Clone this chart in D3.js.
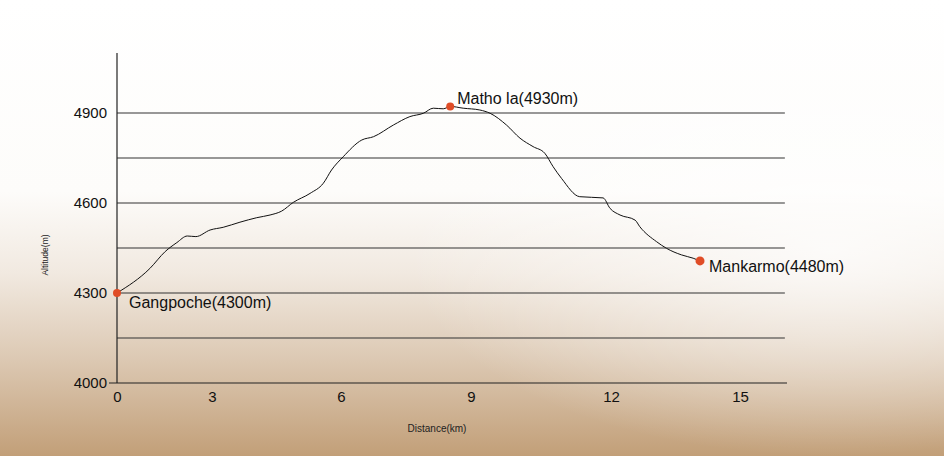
<!DOCTYPE html>
<html>
<head>
<meta charset="utf-8">
<script src="https://cdn.jsdelivr.net/npm/d3@7"></script>
<style>
  body { margin: 0; background: #fff; }
  svg { display: block; font-family: "Liberation Sans", Arial, sans-serif; }
</style>
</head>
<body>
<svg id="chart" width="944" height="456"></svg>
<script>
// profile (km, m)
const distance = [0, 1.04, 1.52, 1.89, 2.22, 2.49, 2.94, 3.26, 3.65, 4.04, 4.35, 4.62, 4.89, 5.28, 5.59, 5.78,
  6.05, 6.48, 6.75, 7.21, 7.59, 7.90, 8.13, 8.36, 8.52, 8.82, 9.19, 9.41, 9.76, 10.05, 10.33, 10.58,
  10.76, 10.94, 11.33, 11.83, 11.98, 12.21, 12.56, 12.67, 13.06, 13.29, 13.64, 13.91, 14.07];
const altitude = [4300, 4382, 4438, 4468, 4490, 4488, 4510, 4519, 4536, 4551, 4560, 4573, 4602, 4632, 4666, 4710,
  4754, 4810, 4821, 4860, 4888, 4899, 4916, 4914, 4922, 4916, 4910, 4899, 4860, 4816, 4788, 4766,
  4721, 4682, 4621, 4617, 4582, 4560, 4543, 4521, 4471, 4449, 4427, 4416, 4407];

const xTicks = [0, 3, 6, 9, 12, 15];
const yTicks = [4000, 4300, 4600, 4900];
const gridValues = [4150, 4300, 4450, 4600, 4750, 4900];

const placeNames = ["Gangpoche(4300m)", "Matho la(4930m)", "Mankarmo(4480m)"];
const placeKm = [0, 8.52, 14.07];
const placeAlt = [4300, 4922, 4407];

const svg = d3.select("#chart");

// background: white sky fading into a sandy brown
const defs = svg.append("defs");
const bg = defs.append("linearGradient").attr("id", "bg")
  .attr("x1", 0).attr("y1", 0).attr("x2", 0).attr("y2", 1);
bg.append("stop").attr("offset", "0%").attr("stop-color", "#ffffff");
bg.append("stop").attr("offset", "42%").attr("stop-color", "#fdfcfa");
bg.append("stop").attr("offset", "60%").attr("stop-color", "#f1e9e0");
bg.append("stop").attr("offset", "78%").attr("stop-color", "#ddcab5");
bg.append("stop").attr("offset", "100%").attr("stop-color", "#c29f78");

const glow = defs.append("radialGradient").attr("id", "glow")
  .attr("cx", "0.88").attr("cy", "0.55").attr("r", "0.45");
glow.append("stop").attr("offset", "0%").attr("stop-color", "#ffffff").attr("stop-opacity", 0.75);
glow.append("stop").attr("offset", "100%").attr("stop-color", "#ffffff").attr("stop-opacity", 0);

svg.append("rect").attr("width", 944).attr("height", 456).attr("fill", "url(#bg)");
svg.append("rect").attr("width", 944).attr("height", 456).attr("fill", "url(#glow)");

// the original axis is hand spaced, so the x scale follows its tick spacing
const x = d3.scaleLinear()
  .domain([0, 3, 6, 9, 12, 15, 16.1])
  .range([117, 212, 341, 471, 611, 740, 787]);
const y = d3.scaleLinear().domain([4000, 4900]).range([383, 113]);
const xMax = 16.1, yMax = 5100;

// grid lines
svg.append("g").selectAll("line").data(gridValues).join("line")
  .attr("x1", x(0)).attr("x2", x(16.05))
  .attr("y1", d => y(d)).attr("y2", d => y(d))
  .attr("stroke", "#333").attr("stroke-width", 1.1);

// axes
const xAxis = svg.append("g")
  .attr("transform", `translate(0,${y(4000)})`)
  .call(d3.axisBottom(x).tickValues(xTicks).tickSize(0).tickPadding(8));
const yAxis = svg.append("g")
  .attr("transform", `translate(${x(0)},0)`)
  .call(d3.axisLeft(y).tickValues(yTicks).tickFormat(d3.format("d")).tickSize(0).tickPadding(10));
[xAxis, yAxis].forEach(g => {
  g.select(".domain").remove();
  g.selectAll("text").attr("font-size", 15).attr("fill", "#111")
    .attr("font-family", "'Liberation Sans', Arial, sans-serif");
});

svg.append("line")
  .attr("x1", x(0)).attr("x2", x(xMax))
  .attr("y1", y(4000)).attr("y2", y(4000))
  .attr("stroke", "#222").attr("stroke-width", 1.2);
svg.append("line")
  .attr("x1", x(0)).attr("x2", x(0))
  .attr("y1", y(4000)).attr("y2", y(yMax))
  .attr("stroke", "#222").attr("stroke-width", 1.2);
svg.append("line")
  .attr("x1", x(0) - 8).attr("x2", x(0))
  .attr("y1", y(4000)).attr("y2", y(4000))
  .attr("stroke", "#222").attr("stroke-width", 1);

// axis titles
svg.append("text")
  .attr("x", 437).attr("y", 432)
  .attr("text-anchor", "middle").attr("font-size", 10).attr("fill", "#222")
  .text("Distance(km)");
svg.append("text")
  .attr("transform", "translate(48,255) rotate(-90)")
  .attr("text-anchor", "middle").attr("font-size", 8.5).attr("fill", "#222")
  .text("Altitude(m)");

// profile
const profile = distance.map((d, i) => [d, altitude[i]]);
svg.append("path")
  .datum(profile)
  .attr("fill", "none").attr("stroke", "#111").attr("stroke-width", 1)
  .attr("d", d3.line().x(d => x(d[0])).y(d => y(d[1])).curve(d3.curveMonotoneX));

// places
const labelDx = [12, 7, 9];
const labelDy = [9, -8, 5];
const places = svg.append("g").selectAll("g").data(placeNames).join("g");
places.append("circle")
  .attr("cx", (d, i) => x(placeKm[i])).attr("cy", (d, i) => y(placeAlt[i]))
  .attr("r", (d, i) => i === 2 ? 4.5 : 4)
  .attr("fill", "#e04d27");
places.append("text")
  .attr("x", (d, i) => x(placeKm[i]) + labelDx[i])
  .attr("y", (d, i) => y(placeAlt[i]) + labelDy[i])
  .attr("dy", "0.35em")
  .attr("font-size", 16).attr("fill", "#111")
  .text(d => d);
</script>
</body>
</html>
